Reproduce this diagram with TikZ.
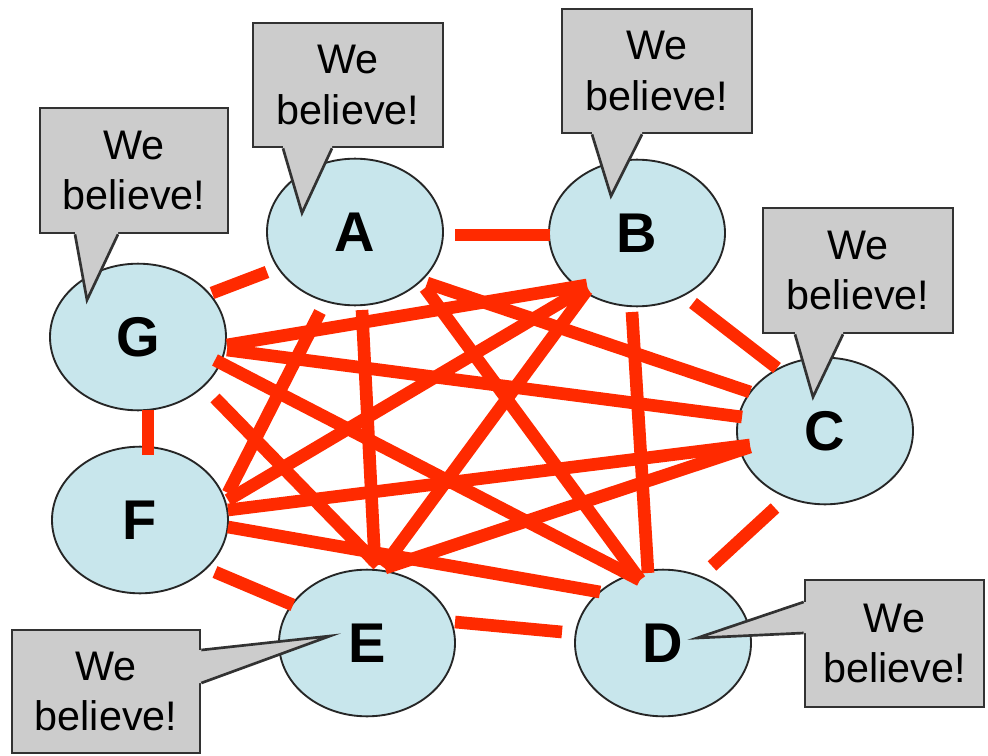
\documentclass[tikz,border=0pt]{standalone}
\usepackage{fontspec}
\setmainfont{Liberation Sans}
\usetikzlibrary{calc,shapes.geometric}
\definecolor{nodefill}{RGB}{200,230,236}
\definecolor{edgered}{RGB}{255,42,0}
\definecolor{callfill}{RGB}{204,204,204}
\definecolor{callline}{RGB}{50,50,50}
\tikzset{
  vtx/.style={ellipse, draw=black!85, line width=1.4pt, fill=nodefill,
    minimum width=132pt, minimum height=110pt, inner sep=0pt,
    font=\fontsize{42}{42}\selectfont\bfseries},
  link/.style={draw=edgered, line width=9.5pt},
  bubble/.style={draw=callline, fill=callfill, line width=2pt, inner sep=0pt,
    align=center, font=\fontsize{31}{38}\selectfont},
  ptrline/.style={draw=callline, line width=2pt, line join=miter},
}
\begin{document}
\begin{tikzpicture}[x=0.75pt,y=-0.75pt]
\path[fill=white,use as bounding box] (0,0) rectangle (988,756);

% nodes
\node[vtx] (A) at (355,232) {A};
\node[vtx] (B) at (637,233) {B};
\node[vtx] (C) at (825,431) {C};
\node[vtx] (D) at (663,643) {D};
\node[vtx] (E) at (367,643) {E};
\node[vtx] (F) at (140,520) {F};
\node[vtx] (G) at (138,337) {G};

% edges
\draw[link] ($(A.center)+(100,3)$) -- ($(B.center)+(-87,2)$);
\draw[link] ($(A.center)+(-88,40)$) -- ($(G.center)+(74,-44)$);
\draw[link] ($(A.center)+(-35,80)$) -- ($(F.center)+(88,-27)$);
\draw[link] ($(A.center)+(7,78)$) -- ($(E.center)+(8,-78)$);
\draw[link] ($(A.center)+(70,56)$) -- ($(D.center)+(-23,-63)$);
\draw[link] ($(A.center)+(72,51)$) -- ($(C.center)+(-75,-39)$);
\draw[link] ($(B.center)+(56,70)$) -- ($(C.center)+(-48,-63)$);
\draw[link] ($(B.center)+(-50,52)$) -- ($(G.center)+(89,8)$);
\draw[link] ($(B.center)+(-50,54)$) -- ($(F.center)+(88,-20)$);
\draw[link] ($(B.center)+(-50,57)$) -- ($(E.center)+(16,-76)$);
\draw[link] ($(B.center)+(-5,79)$) -- ($(D.center)+(-15,-70)$);
\draw[link] ($(C.center)+(-50,77)$) -- ($(D.center)+(49,-77)$);
\draw[link] ($(C.center)+(-83,-14)$) -- ($(G.center)+(89,13)$);
\draw[link] ($(C.center)+(-75,14)$) -- ($(F.center)+(88,-10)$);
\draw[link] ($(C.center)+(-75,16)$) -- ($(E.center)+(18,-75)$);
\draw[link] ($(D.center)+(-101,-11)$) -- ($(E.center)+(88,-21)$);
\draw[link] ($(D.center)+(-63,-51)$) -- ($(F.center)+(88,7)$);
\draw[link] ($(D.center)+(-23,-63)$) -- ($(G.center)+(77,23)$);
\draw[link] ($(E.center)+(-74,-38)$) -- ($(F.center)+(75,52)$);
\draw[link] ($(E.center)+(11,-78)$) -- ($(G.center)+(77,61)$);
\draw[link] ($(F.center)+(8,-65)$) -- ($(G.center)+(10,73)$);

% callouts
\node[bubble, minimum width=142.5pt, minimum height=93pt] (cA) at (348,85) {We\\believe!};
\node[bubble, minimum width=142.5pt, minimum height=93pt] (cB) at (657,71) {We\\believe!};
\node[bubble, minimum width=141pt, minimum height=93.75pt] (cG) at (134,170.5) {We\\believe!};
\node[bubble, minimum width=142.5pt, minimum height=93.75pt] (cC) at (858,270.5) {We\\believe!};
\node[bubble, minimum width=141pt, minimum height=92.25pt] (cE) at (106,691.5) {We\\believe!};
\node[bubble, minimum width=134.25pt, minimum height=95.25pt] (cD) at (894.5,643.5) {We\\believe!};

% pointers (bottom side)
\foreach \c/\n/\a/\b/\tx/\ty in {cA/A/-65/-16/-53/-19, cB/B/-65/-15/-26/-37, cG/G/-59/-16/-51/-37, cC/C/-63/-15/-12/-34}{
  \coordinate (p1) at ($(\c.south)+(\a,0)$);
  \coordinate (p2) at ($(\c.south)+(\b,0)$);
  \coordinate (tip) at ($(\n.center)+(\tx,\ty)$);
  \fill[callfill] ($(p1)+(0,-3)$) -- (p1) -- (tip) -- (p2) -- ($(p2)+(0,-3)$) -- cycle;
  \draw[ptrline] (p1) -- (tip) -- (p2);
}
% pointer E (right side)
\coordinate (e1) at ($(cE.east)+(0,-41.5)$);
\coordinate (e2) at ($(cE.east)+(0,-8.5)$);
\coordinate (etip) at ($(E.center)+(-37,-7)$);
\fill[callfill] ($(e1)+(-3,0)$) -- (e1) -- (etip) -- (e2) -- ($(e2)+(-3,0)$) -- cycle;
\draw[ptrline] (e1) -- (etip) -- (e2);
% pointer D (left side)
\coordinate (d1) at ($(cD.west)+(0,-41.5)$);
\coordinate (d2) at ($(cD.west)+(0,-10.5)$);
\coordinate (dtip) at ($(D.center)+(34,-5)$);
\fill[callfill] ($(d1)+(3,0)$) -- (d1) -- (dtip) -- (d2) -- ($(d2)+(3,0)$) -- cycle;
\draw[ptrline] (d1) -- (dtip) -- (d2);
\end{tikzpicture}
\end{document}
